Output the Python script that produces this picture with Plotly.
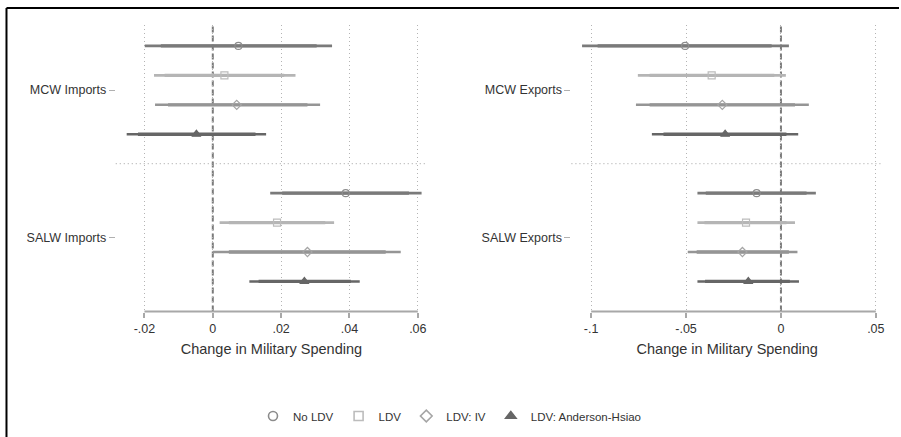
import plotly.graph_objects as go

# Coefficient estimates with 90% (inner) and 95% (outer) intervals
models = ["No LDV", "LDV", "LDV: IV", "LDV: Anderson-Hsiao"]

# Left panel: imports
mcw_imp_est = [0.0075, 0.0034, 0.0070, -0.0048]
mcw_imp_lo95 = [-0.0199, -0.0172, -0.0169, -0.0252]
mcw_imp_hi95 = [0.0349, 0.0242, 0.0314, 0.0156]
mcw_imp_lo90 = [-0.0152, -0.0141, -0.0131, -0.0219]
mcw_imp_hi90 = [0.0304, 0.0209, 0.0277, 0.0125]

salw_imp_est = [0.0389, 0.0188, 0.0277, 0.0268]
salw_imp_lo95 = [0.0168, 0.0020, 0.0000, 0.0107]
salw_imp_hi95 = [0.0611, 0.0355, 0.0550, 0.0430]
salw_imp_lo90 = [0.0203, 0.0047, 0.0047, 0.0134]
salw_imp_hi90 = [0.0574, 0.0329, 0.0506, 0.0404]

# Right panel: exports
mcw_exp_est = [-0.0505, -0.0365, -0.0309, -0.0294]
mcw_exp_lo95 = [-0.1048, -0.0754, -0.0764, -0.0680]
mcw_exp_hi95 = [0.0042, 0.0026, 0.0147, 0.0091]
mcw_exp_lo90 = [-0.0966, -0.0692, -0.0692, -0.0619]
mcw_exp_hi90 = [-0.0049, -0.0035, 0.0074, 0.0029]

salw_exp_est = [-0.0128, -0.0184, -0.0203, -0.0172]
salw_exp_lo95 = [-0.0440, -0.0440, -0.0491, -0.0440]
salw_exp_hi95 = [0.0184, 0.0074, 0.0087, 0.0095]
salw_exp_lo90 = [-0.0396, -0.0403, -0.0444, -0.0400]
salw_exp_hi90 = [0.0135, 0.0029, 0.0042, 0.0047]

left_labels = ["MCW Imports", "SALW Imports"]
right_labels = ["MCW Exports", "SALW Exports"]
left_ticks = [-0.02, 0, 0.02, 0.04, 0.06]
left_ticktext = ["-.02", "0", ".02", ".04", ".06"]
right_ticks = [-0.1, -0.05, 0, 0.05]
right_ticktext = ["-.1", "-.05", "0", ".05"]

# Row slots: group 1 uses 1-4, group 2 uses 6-9, slot 5 holds the separator
rows_top = [1, 2, 3, 4]
rows_bot = [6, 7, 8, 9]

line_colors = ["#7a7a7a", "#b5b5b5", "#959595", "#666666"]
marker_symbols = ["circle-open", "square-open", "diamond-open", "triangle-up"]
marker_colors = ["#8c8c8c", "#bcbcbc", "#a5a5a5", "#666666"]

W, H = 901, 437
FONT = "Liberation Sans, Arial, sans-serif"
TXT = "#333333"

fig = go.Figure()


def seg(lo, hi, rows):
    xs, ys = [], []
    for a, b, r in zip(lo, hi, rows):
        xs += [a, b, None]
        ys += [r, r, None]
    return xs, ys


def add_panel(xa, ya, groups):
    for i in range(4):
        for (est, lo95, hi95, lo90, hi90, rows) in groups:
            xs, ys = seg([lo95[i]], [hi95[i]], [rows[i]])
            fig.add_trace(go.Scatter(x=xs, y=ys, mode="lines", xaxis=xa, yaxis=ya,
                                     line=dict(color=line_colors[i], width=2.6),
                                     showlegend=False, hoverinfo="skip"))
            xs, ys = seg([lo90[i]], [hi90[i]], [rows[i]])
            fig.add_trace(go.Scatter(x=xs, y=ys, mode="lines", xaxis=xa, yaxis=ya,
                                     line=dict(color=line_colors[i], width=3.3),
                                     showlegend=False, hoverinfo="skip"))
            sym = marker_symbols[i]
            fig.add_trace(go.Scatter(x=[est[i]], y=[rows[i]], mode="markers",
                                     xaxis=xa, yaxis=ya,
                                     marker=dict(symbol=sym, size=7 if "open" in sym else 8,
                                                 color=marker_colors[i],
                                                 line=dict(width=1.2, color=marker_colors[i])),
                                     showlegend=False))


add_panel("x", "y", [
    (mcw_imp_est, mcw_imp_lo95, mcw_imp_hi95, mcw_imp_lo90, mcw_imp_hi90, rows_top),
    (salw_imp_est, salw_imp_lo95, salw_imp_hi95, salw_imp_lo90, salw_imp_hi90, rows_bot),
])
add_panel("x2", "y2", [
    (mcw_exp_est, mcw_exp_lo95, mcw_exp_hi95, mcw_exp_lo90, mcw_exp_hi90, rows_top),
    (salw_exp_est, salw_exp_lo95, salw_exp_hi95, salw_exp_lo90, salw_exp_hi90, rows_bot),
])

# Legend entries
for i, name in enumerate(models):
    fig.add_trace(go.Scatter(x=[None], y=[None], mode="markers", name=name,
                             marker=dict(symbol=marker_symbols[i], size=9,
                                         color=marker_colors[i],
                                         line=dict(width=1.6, color=marker_colors[i]))))

y_dom = [(H - 311.5) / H, (H - 25) / H]
yrange = [10.02, 0.29]

common_x = dict(showgrid=True, gridcolor="#b4b4b4", griddash="1px,3px", gridwidth=1,
                zeroline=False, showline=False, ticks="outside", ticklen=5,
                tickcolor="#a8a8a8", tickwidth=1.5,
                tickfont=dict(family=FONT, size=12.5, color=TXT),
                title=dict(text="Change in Military Spending",
                           font=dict(family=FONT, size=14.5, color=TXT), standoff=9))
common_y = dict(range=yrange, showgrid=False, zeroline=False, showline=False,
                ticks="outside", ticklen=6, tickcolor="#b0b0b0", tickwidth=1,
                tickvals=[2.5, 7.5], tickfont=dict(family=FONT, size=12.5, color=TXT))

fig.update_layout(
    width=W, height=H, margin=dict(l=0, r=0, t=0, b=0),
    paper_bgcolor="white", plot_bgcolor="white",
    xaxis=dict(domain=[116 / W, 428 / W], range=[-0.0284, 0.0627],
               tickvals=left_ticks, ticktext=left_ticktext, anchor="y", **common_x),
    yaxis=dict(domain=y_dom, ticktext=left_labels, anchor="x", **common_y),
    xaxis2=dict(domain=[572.7 / W, 885 / W], range=[-0.1104, 0.0538],
                tickvals=right_ticks, ticktext=right_ticktext, anchor="y2", **common_x),
    yaxis2=dict(domain=y_dom, ticktext=right_labels, anchor="x2", **common_y),
    legend=dict(orientation="h", x=0.5, xanchor="center", y=(H - 416) / H,
                yanchor="middle", font=dict(family=FONT, size=11.5, color=TXT),
                bgcolor="rgba(0,0,0,0)", itemwidth=30),
    showlegend=True,
)

shapes = []
for xr, yr, lo, hi in [("x", "y", left_ticks[0], left_ticks[-1]),
                       ("x2", "y2", right_ticks[0], right_ticks[-1])]:
    # zero reference line
    shapes.append(dict(type="line", xref=xr, yref=yr + " domain", x0=0, x1=0, y0=0, y1=1,
                       line=dict(color="#7a7a7a", width=2, dash="6px,3px"), layer="below"))
    # separator between the two groups
    shapes.append(dict(type="line", xref=xr + " domain", yref=yr, x0=0, x1=1, y0=5, y1=5,
                       line=dict(color="#a0a0a0", width=1, dash="1px,3px"), layer="below"))
    # x axis line over the labelled range
    shapes.append(dict(type="line", xref=xr, yref=yr + " domain", x0=lo, x1=hi, y0=0, y1=0,
                       line=dict(color="#a8a8a8", width=2)))

# outer frame on the left and top edges
bx = 6.5 / W
by = 1 - 8 / H
shapes.append(dict(type="line", xref="paper", yref="paper", x0=bx, x1=bx, y0=0, y1=by,
                   line=dict(color="black", width=2)))
shapes.append(dict(type="line", xref="paper", yref="paper", x0=bx, x1=1, y0=by, y1=by,
                   line=dict(color="black", width=2)))
fig.update_layout(shapes=shapes)

fig.write_html("out.html")
